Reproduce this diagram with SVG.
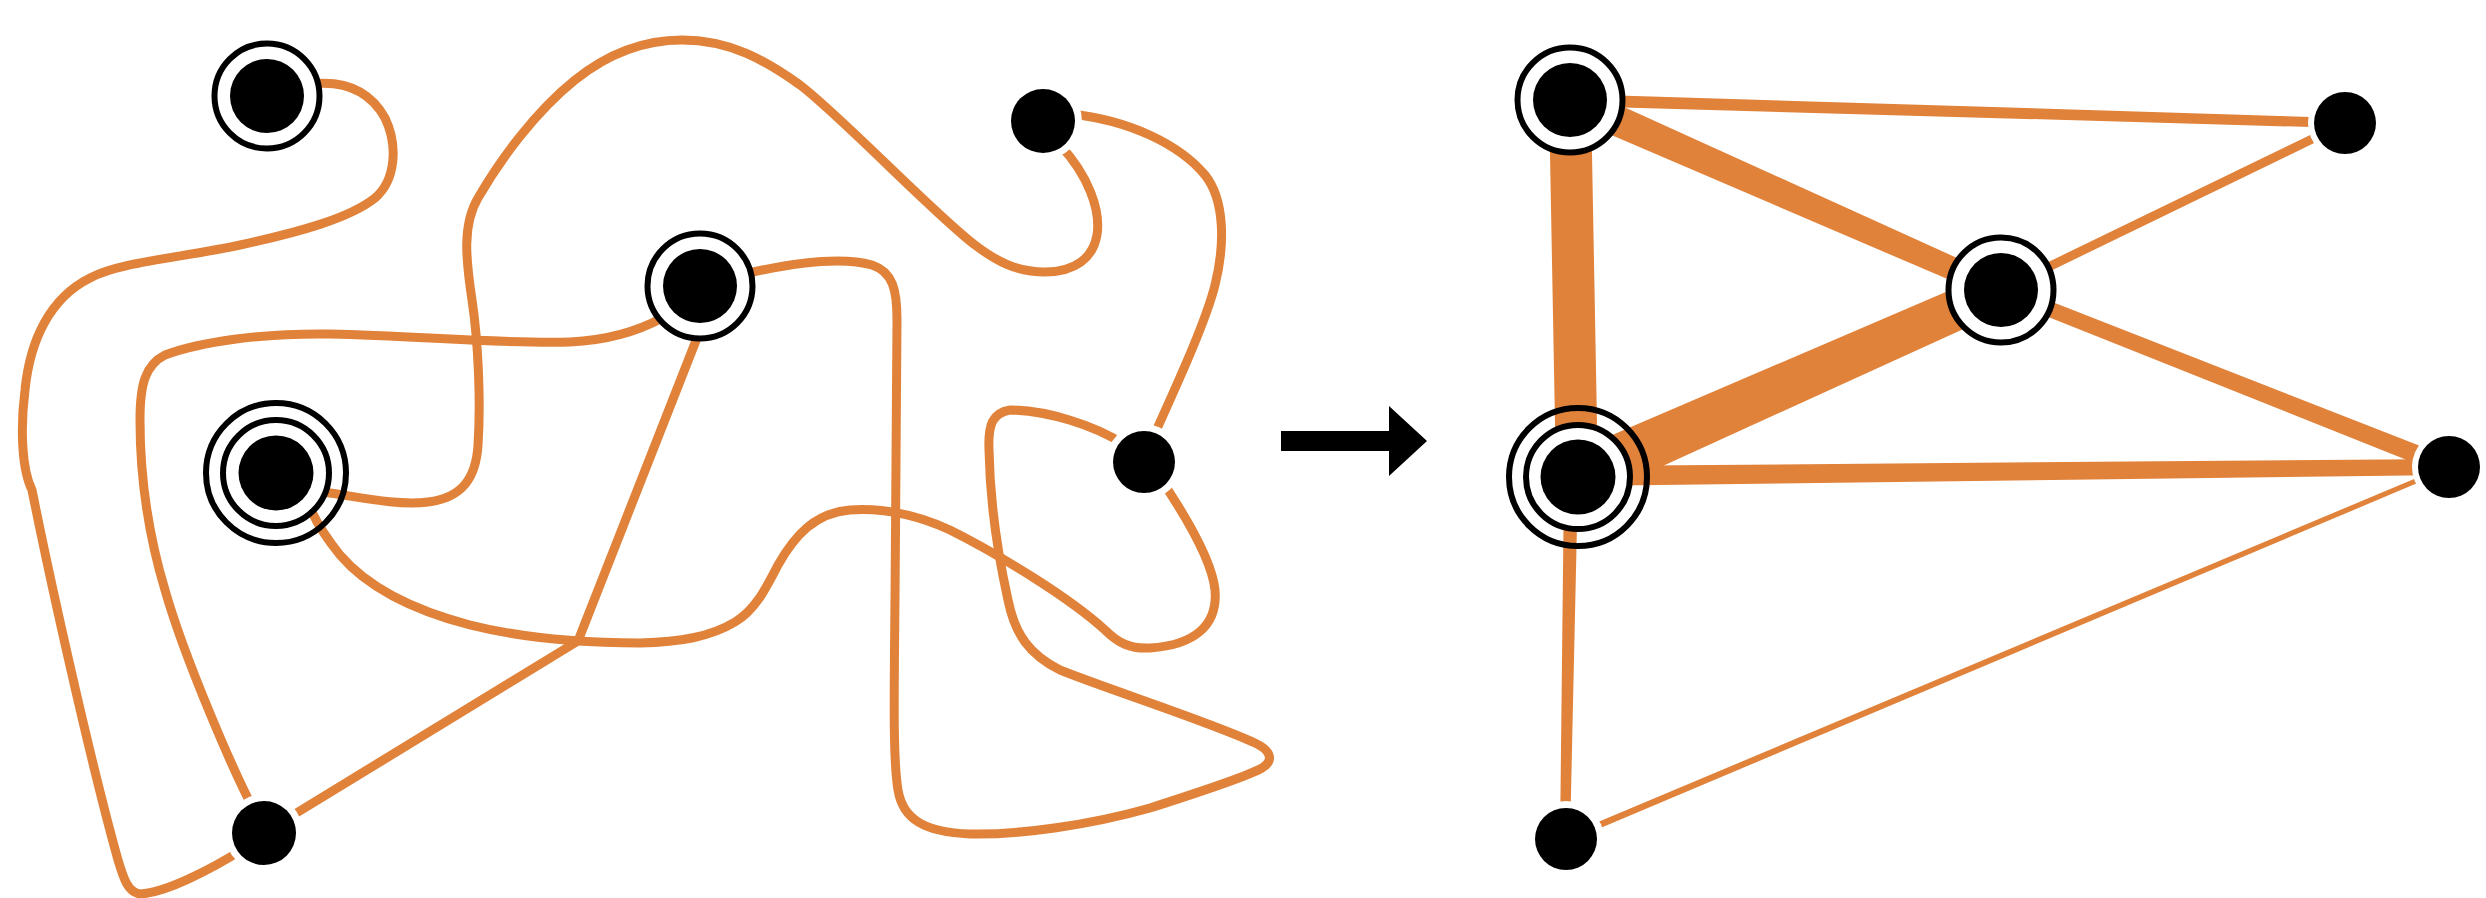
<svg xmlns="http://www.w3.org/2000/svg" width="2486" height="898" viewBox="0 0 2486 898">
<style>
.wire{fill:none;stroke:#E1823A;stroke-width:9;stroke-linejoin:round}
.band{fill:#E1823A}
.bline{fill:none;stroke:#E1823A}
.dot{fill:#000}
.ring{fill:none;stroke:#000;stroke-width:6}
.inner{fill:#fff;stroke:#000;stroke-width:6}
.halo{fill:#fff}
</style>
<rect width="2486" height="898" fill="#fff"/>
<g id="connectors">
  <path class="wire" d="M312,84 C350,80 372,95 385,118 C398,145 396,180 375,198 C350,218 300,232 240,245 C180,258 120,262 90,278 C50,298 30,340 25,390 C20,430 22,470 32,490 C50,580 90,760 118,860 C124,880 128,892 140,894 C165,893 210,870 245,848"/>
  <path class="wire" d="M323,492 C355,496 395,506 428,502 C462,498 476,478 478,445 C481,400 478,340 472,300 C466,260 462,225 478,198 C500,160 535,112 575,80 C610,52 645,40 682,40 C730,40 765,60 800,85 C840,115 935,215 975,245 C995,260 1015,272 1045,272 C1075,272 1093,258 1097,235 C1101,210 1088,175 1060,145"/>
  <path class="wire" d="M1070,114 C1130,120 1180,145 1205,175 C1225,200 1225,245 1215,285 C1205,325 1172,395 1152,440"/>
  <path class="wire" d="M753,272 C790,264 840,256 872,265 C893,272 897,290 897,320 L895,600 C894,700 893,760 898,790 C903,820 925,832 970,834 C1020,835 1090,825 1150,808 C1200,792 1250,775 1262,768 C1275,760 1270,750 1255,743 C1210,722 1110,690 1060,670 C1030,655 1015,635 1008,600 C998,555 990,500 989,450 C988,425 992,413 1010,410 C1045,410 1095,425 1125,445"/>
  <path class="wire" d="M1160,478 C1185,515 1212,560 1215,590 C1218,625 1195,645 1150,648 C1130,649 1118,643 1105,630 C1070,598 1000,555 950,530 C915,514 880,508 850,510 C815,513 795,535 778,565 C765,590 755,610 735,622 C710,637 680,642 640,643 C590,643 530,640 470,625 C420,612 370,590 340,555 C328,540 318,525 312,512"/>
  <path class="wire" d="M662,318 C640,330 610,340 570,342 C500,344 420,336 330,334 C260,333 200,342 165,355 C145,365 140,385 140,420 C140,480 150,540 165,590 C185,660 235,775 255,812"/>
  <path class="wire" d="M697,338 L578,641 L285,820"/>

  <polygon class="band" points="1569.8,106 2344.9,128 2345.1,118 1570.2,94"/>
  <polygon class="band" points="1563.5,114.6 1996.6,300.1 2005.4,279.9 1576.5,85.4"/>
  <line class="bline" x1="1570" y1="100" x2="1577" y2="477" stroke-width="42"/>
  <polygon class="band" points="1588.1,499.9 2009.1,308.3 1992.9,271.7 1567.9,454.1"/>
  <line class="bline" x1="2001" y1="290" x2="2345" y2="123" stroke-width="9"/>
  <polygon class="band" points="1998.2,297 2445.7,475.4 2452.3,458.6 2003.8,283"/>
  <polygon class="band" points="1578.1,486 2449.1,475 2448.9,459 1577.9,466"/>
  <polygon class="band" points="1564,480 1560,839 1570,839 1578,480"/>
  <polygon class="band" points="1567.3,842 2450,469.3 2448,464.7 1564.7,836"/>
</g>
<g id="arrow">
  <polygon class="dot" points="1281,431 1389,431 1389,406 1427,441 1389,476 1389,451 1281,451"/>
</g>
<g id="L1"><circle class="inner" cx="267" cy="96" r="52.5"/><circle class="dot" cx="267" cy="96" r="37"/></g>
<g id="L2"><circle class="inner" cx="700" cy="286" r="52.5"/><circle class="dot" cx="700" cy="286" r="37"/></g>
<g id="L3"><circle class="ring" cx="276" cy="473" r="70"/><circle class="inner" cx="276" cy="473" r="53"/><circle class="dot" cx="276" cy="473" r="37.5"/></g>
<g id="L4"><circle class="halo" cx="1043" cy="121" r="39"/><circle class="dot" cx="1043" cy="121" r="32"/></g>
<g id="L5"><circle class="halo" cx="1144" cy="462" r="38"/><circle class="dot" cx="1144" cy="462" r="31"/></g>
<g id="L6"><circle class="halo" cx="264" cy="833" r="39"/><circle class="dot" cx="264" cy="833" r="32"/></g>
<g id="R1"><circle class="inner" cx="1570" cy="100" r="52.5"/><circle class="dot" cx="1570" cy="100" r="37"/></g>
<g id="R2"><circle class="halo" cx="2345" cy="123" r="37"/><circle class="dot" cx="2345" cy="123" r="31"/></g>
<g id="R3"><circle class="inner" cx="2001" cy="290" r="52.5"/><circle class="dot" cx="2001" cy="290" r="37"/></g>
<g id="R4"><circle class="ring" cx="1578" cy="477" r="69"/><circle class="inner" cx="1578" cy="477" r="52"/><circle class="dot" cx="1578" cy="477" r="37.5"/></g>
<g id="R5"><circle class="halo" cx="2449" cy="467" r="37"/><circle class="dot" cx="2449" cy="467" r="31"/></g>
<g id="R6"><circle class="halo" cx="1566" cy="839" r="38"/><circle class="dot" cx="1566" cy="839" r="31"/></g>
</svg>
